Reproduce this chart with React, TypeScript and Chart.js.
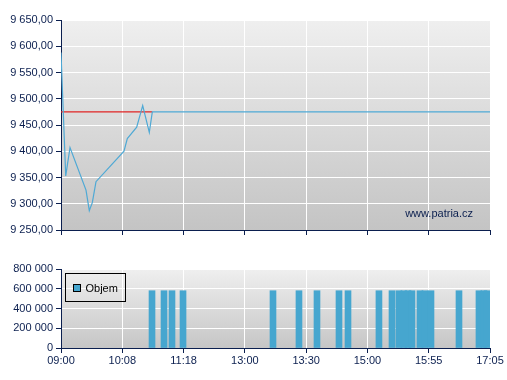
import React, { useEffect, useRef } from "react";
import { Chart, registerables } from "chart.js";

Chart.register(...registerables);

const timeLabels = ["09:00", "10:08", "11:18", "13:00", "13:30", "15:00", "15:55", "17:05"];
const priceX = [0, 0.077, 0.147, 0.408, 0.462, 0.511, 0.571, 1.028, 1.082, 1.235, 1.333, 1.441, 1.49, 7];
const priceY = [9588, 9353, 9407, 9326, 9287, 9302, 9342, 9400, 9424, 9446, 9487, 9436, 9475, 9475];
const referencePrice = 9475;
const referenceX = [0, 1.49];
const volumeX = [1.485, 1.681, 1.811, 1.991, 3.459, 3.883, 4.177, 4.536, 4.683, 5.188, 5.401, 5.515, 5.596, 5.662, 5.727, 5.857, 5.939, 6.037, 6.494, 6.82, 6.901, 6.95];
const volumeY = [580000, 580000, 580000, 580000, 580000, 580000, 580000, 580000, 580000, 580000, 580000, 580000, 580000, 580000, 580000, 580000, 580000, 580000, 580000, 580000, 580000, 580000];
const priceTicks = { min: 9250, max: 9650, step: 50 };
const volumeTicks = { min: 0, max: 800000, step: 200000 };

const NAVY = "#0b1f4f";
const FONT = "'Liberation Sans', Arial, sans-serif";

function groupThousands(s: string) {
  return s.replace(/\B(?=(\d{3})+(?!\d))/g, " ");
}
function fmtPrice(v: number) {
  const [i, d] = v.toFixed(2).split(".");
  return groupThousands(i) + "," + d;
}
function fmtVol(v: number) {
  return groupThousands(String(Math.round(v)));
}

const bgPlugin = {
  id: "bgGrad",
  beforeDraw(chart: any, _a: any, opts: any) {
    const { ctx, chartArea } = chart;
    if (!chartArea) return;
    const g = ctx.createLinearGradient(0, chartArea.top, 0, chartArea.bottom);
    g.addColorStop(0, opts.top || "#efefef");
    g.addColorStop(1, opts.bottom || "#c6c6c6");
    ctx.save();
    ctx.fillStyle = g;
    ctx.fillRect(chartArea.left, chartArea.top, chartArea.right - chartArea.left, chartArea.bottom - chartArea.top);
    ctx.restore();
  },
};

const watermarkPlugin = {
  id: "watermark",
  afterDraw(chart: any) {
    const { ctx, chartArea } = chart;
    ctx.save();
    ctx.font = `11px ${FONT}`;
    ctx.fillStyle = NAVY;
    ctx.textAlign = "right";
    ctx.textBaseline = "middle";
    ctx.fillText("www.patria.cz", chartArea.right - 17, chartArea.bottom - 16.5);
    ctx.restore();
  },
};

const legendPlugin = {
  id: "boxLegend",
  afterDraw(chart: any) {
    const { ctx, chartArea } = chart;
    const x = chartArea.left + 4.5;
    const y = chartArea.top + 4.5;
    ctx.save();
    ctx.strokeStyle = "#000";
    ctx.lineWidth = 1;
    ctx.strokeRect(x, y, 60, 28);
    ctx.fillStyle = "#46a6cf";
    ctx.fillRect(x + 8, y + 11, 7, 7);
    ctx.strokeRect(x + 8, y + 11, 7, 7);
    ctx.font = `11px ${FONT}`;
    ctx.fillStyle = "#000";
    ctx.textAlign = "left";
    ctx.textBaseline = "middle";
    ctx.fillText("Objem", x + 20, y + 15);
    ctx.restore();
  },
};

function xScale(showLabels: boolean, height: number) {
  return {
    type: "linear" as const,
    min: 0,
    max: 7,
    offset: false,
    afterFit: (s: any) => {
      s.height = height;
    },
    ticks: {
      display: showLabels,
      stepSize: 1,
      autoSkip: false,
      maxRotation: 0,
      padding: 1,
      color: NAVY,
      font: { size: 11, family: FONT },
      callback: (v: any) => timeLabels[Math.round(Number(v))] ?? "",
    },
    grid: { color: "#ffffff", lineWidth: 1, tickColor: NAVY, tickLength: 5, drawTicks: true, offset: false },
    border: { display: true, color: NAVY, width: 1 },
  };
}

function yScale(t: { min: number; max: number; step: number }, fmt: (v: number) => string) {
  return {
    type: "linear" as const,
    min: t.min,
    max: t.max,
    afterFit: (s: any) => {
      s.width = 61;
    },
    ticks: {
      stepSize: t.step,
      padding: 3,
      color: NAVY,
      font: { size: 11, family: FONT },
      callback: (v: any) => fmt(Number(v)),
    },
    grid: { color: "#ffffff", lineWidth: 1, tickColor: NAVY, tickLength: 5 },
    border: { display: true, color: NAVY, width: 1 },
  };
}

export default function App() {
  const topRef = useRef<HTMLCanvasElement>(null);
  const botRef = useRef<HTMLCanvasElement>(null);

  useEffect(() => {
    const priceData = priceX.map((x, i) => ({ x, y: priceY[i] }));
    const refData = referenceX.map((x) => ({ x, y: referencePrice }));
    const top = new Chart(topRef.current!, {
      type: "line",
      data: {
        datasets: [
          {
            data: priceData,
            borderColor: "#4fa9d5",
            borderWidth: 1.2,
            pointRadius: 0,
            tension: 0,
            fill: false,
          },
          {
            data: refData,
            borderColor: "#e02424",
            borderWidth: 1.2,
            pointRadius: 0,
            fill: false,
          },
        ],
      },
      options: {
        responsive: false,
        animation: false,
        events: [],
        layout: { padding: { left: 0, right: 17, top: 20, bottom: 0 } },
        plugins: {
          legend: { display: false },
          tooltip: { enabled: false },
          bgGrad: { top: "#efefef", bottom: "#c4c4c4" },
        } as any,
        scales: {
          x: xScale(false, 10),
          y: yScale(priceTicks, fmtPrice),
        } as any,
      },
      plugins: [bgPlugin, watermarkPlugin],
    });

    const volData = volumeX.map((x, i) => ({ x, y: volumeY[i] }));
    const bot = new Chart(botRef.current!, {
      type: "bar",
      data: {
        datasets: [
          {
            data: volData as any,
            backgroundColor: "#46a6cf",
            borderWidth: 0,
            barThickness: 6,
          },
        ],
      },
      options: {
        responsive: false,
        animation: false,
        events: [],
        layout: { padding: { left: 0, right: 17, top: 19, bottom: 0 } },
        plugins: {
          legend: { display: false },
          tooltip: { enabled: false },
          bgGrad: { top: "#efefef", bottom: "#c6c6c6" },
        } as any,
        scales: {
          x: xScale(true, 32),
          y: yScale(volumeTicks, fmtVol),
        } as any,
      },
      plugins: [bgPlugin, legendPlugin],
    });

    return () => {
      top.destroy();
      bot.destroy();
    };
  }, []);

  return (
    <div style={{ position: "absolute", left: 0, top: 0, width: 507, height: 380, background: "#fff" }}>
      <canvas ref={topRef} width={507} height={240} style={{ position: "absolute", left: 0, top: 0 }} />
      <canvas ref={botRef} width={507} height={130} style={{ position: "absolute", left: 0, top: 250 }} />
    </div>
  );
}
